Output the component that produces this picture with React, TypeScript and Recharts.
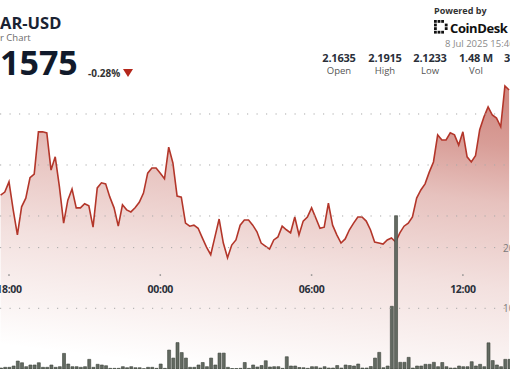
import React from 'react';
import { ComposedChart, Area, Bar, XAxis, YAxis, ReferenceLine } from 'recharts';

// 10 minute candles, first one at 17:40 (minutes are counted from 18:00)
const START_MIN = -20;
const STEP_MIN = 10;

const prices = [
  2.1641, 2.1647, 2.1667, 2.1612, 2.1563, 2.1618, 2.1635, 2.1675, 2.1682, 2.1765,
  2.1765, 2.1763, 2.169, 2.1716, 2.1657, 2.1586, 2.1631, 2.1653, 2.1616, 2.1616,
  2.1624, 2.162, 2.1578, 2.1655, 2.1665, 2.1663, 2.1637, 2.1616, 2.158, 2.1622,
  2.1612, 2.1608, 2.1616, 2.1627, 2.1645, 2.1684, 2.1694, 2.1694, 2.1684, 2.1673,
  2.1735, 2.1704, 2.1639, 2.1637, 2.1586, 2.158, 2.1582, 2.1576, 2.1557, 2.1539,
  2.1524, 2.1559, 2.1594, 2.1547, 2.1518, 2.1543, 2.1553, 2.1582, 2.1592, 2.1592,
  2.1582, 2.1569, 2.1547, 2.1541, 2.1535, 2.1553, 2.1559, 2.158, 2.1573, 2.1567,
  2.1598, 2.1563, 2.159, 2.1598, 2.1616, 2.1596, 2.1576, 2.1578, 2.1625, 2.1582,
  2.1563, 2.1547, 2.1555, 2.1573, 2.1586, 2.1598, 2.1598, 2.159, 2.1573, 2.1549,
  2.1547, 2.1545, 2.1553, 2.1557, 2.1549, 2.1567, 2.158, 2.1586, 2.1598, 2.1635,
  2.1651, 2.1663, 2.1686, 2.1706, 2.1759, 2.1749, 2.1749, 2.1763, 2.1759, 2.1739,
  2.1765, 2.1716, 2.1706, 2.1718, 2.1769, 2.1794, 2.1814, 2.1798, 2.1792, 2.1775,
  2.1855, 2.1847,
];

// volume in thousands
const volumes = [
  1.6, 2.8, 2.8, 4.9, 13.1, 10.3, 3.8, 6.6, 6.6, 10.3,
  2.8, 2.8, 6.6, 2.8, 3.8, 25.7, 8.2, 3.8, 3.8, 2.8,
  3.8, 15.9, 2.8, 7.7, 6.6, 5.4, 1.1, 1.1, 1.1, 3.8,
  2.1, 3.8, 2.1, 2.1, 0.5, 2.8, 2.8, 1.1, 8.2, 1.1,
  31.2, 18.0, 43.5, 27.1, 18.0, 2.8, 2.8, 6.6, 10.7, 3.8,
  18.0, 6.6, 26.2, 26.2, 2.8, 0.8, 0.8, 1.1, 10.7, 1.1,
  6.6, 3.3, 5.7, 13.6, 3.3, 3.8, 3.8, 1.1, 20.2, 4.9,
  4.9, 2.5, 2.1, 1.1, 3.8, 3.8, 1.6, 3.8, 1.6, 1.6,
  5.7, 1.6, 6.6, 5.7, 4.9, 8.2, 1.6, 1.6, 4.1, 18.0,
  27.4, 2.1, 4.9, 103.3, 252.6, 11.0, 11.0, 19.2, 1.6, 4.9,
  4.9, 7.7, 7.7, 11.0, 3.8, 10.7, 3.8, 1.6, 1.6, 4.9,
  3.8, 3.8, 12.0, 4.9, 7.7, 3.8, 43.1, 13.9, 6.6, 3.8,
  15.9, 15.9,
];

const timeTicks = [0, 360, 720, 1080];
const priceGrid = [2.18, 2.17, 2.16];
const volumeGrid = [100, 200];
const volumeGridLabels = ['100K', '200K'];

const statValues = ['2.1635', '2.1915', '2.1233', '1.48 M', '3.21 M'];
const statLabels = ['Open', 'High', 'Low', 'Vol', 'Vol $'];
const statCenters = [339, 385, 430, 476, 521];

const data = prices.map((price, i) => ({
  t: START_MIN + i * STEP_MIN,
  price,
  vol: volumes[i],
}));

const FONT = "'Open Sans', sans-serif";

const formatTime = (m: number) => {
  const total = (((18 * 60 + m) % 1440) + 1440) % 1440;
  const hh = String(Math.floor(total / 60)).padStart(2, '0');
  const mm = String(total % 60).padStart(2, '0');
  return `${hh}:${mm}`;
};

// time label drawn in the middle of the chart, under the price pane
const timeLabel = (t: number) => (p: any) => {
  const x = p.viewBox.x;
  return (
    <g>
      <rect x={x - 0.75} y={274.3} width={1.5} height={1.5} fill="#8c8c8c" />
      <text x={x} y={293} textAnchor="middle" fontSize={10.5} fontWeight={700}
        fill="#2b303a" fontFamily={FONT} letterSpacing={-0.3}>
        {formatTime(t)}
      </text>
    </g>
  );
};

const logoCells = [
  [1, 1, 1, 0],
  [1, 0, 0, 1],
  [1, 0, 0, 1],
  [1, 1, 1, 0],
];

const Header = () => (
  <svg width={510} height={369} style={{ position: 'absolute', left: 0, top: 0, pointerEvents: 'none' }}>
    <text x={0} y={29} fontSize={16.5} fontWeight={700} fill="#1a2333" fontFamily={FONT}>AR-USD</text>
    <text x={0} y={41} fontSize={9.5} fill="#6b6b6b" fontFamily={FONT}>r Chart</text>
    <text x={0} y={75} fontSize={34} fontWeight={700} fill="#111a2b" fontFamily={FONT}>1575</text>
    <text x={88} y={77} fontSize={10} fontWeight={700} fill="#333" fontFamily={FONT}>-0.28%</text>
    <polygon points="123,69 133,69 128,77" fill="#b4271b" />

    <text x={434} y={14} fontSize={9} fontWeight={700} fill="#333" fontFamily={FONT}>Powered by</text>
    {logoCells.map((row, r) =>
      row.map((c, k) =>
        c ? <rect key={`${r}-${k}`} x={434 + k * 3.6} y={20 + r * 3.6} width={2.8} height={2.8} fill="#111" /> : null
      )
    )}
    <text x={450} y={33} fontSize={13} fontWeight={700} fill="#111" fontFamily={FONT} letterSpacing={-0.4}>CoinDesk</text>
    <text x={445} y={47} fontSize={9.5} fill="#8a8a8a" fontFamily={FONT}>8 Jul 2025 15:46</text>

    {statValues.map((v, i) => (
      <text key={v} x={statCenters[i]} y={62} textAnchor="middle" fontSize={11} fontWeight={700}
        fill="#2a2f3a" fontFamily={FONT} letterSpacing={-0.2}>{v}</text>
    ))}
    {statLabels.map((l, i) => (
      <text key={l} x={statCenters[i]} y={74} textAnchor="middle" fontSize={9.5}
        fill="#555" fontFamily={FONT}>{l}</text>
    ))}
  </svg>
);

export default function App() {
  return (
    <div style={{ position: 'absolute', left: 0, top: 0, width: 510, height: 369, overflow: 'hidden', background: '#fff' }}>
      <ComposedChart width={510} height={369} data={data} margin={{ top: 0, right: 0, bottom: 0, left: 0 }}>
        <defs>
          <linearGradient id="areaFill" gradientUnits="userSpaceOnUse" x1={255} y1={70} x2={219} y2={371}>
            <stop offset="0" stopColor="#ae3326" stopOpacity={0.95} />
            <stop offset="0.15" stopColor="#ae3326" stopOpacity={0.8} />
            <stop offset="0.34" stopColor="#ae3326" stopOpacity={0.5} />
            <stop offset="0.62" stopColor="#ae3326" stopOpacity={0.25} />
            <stop offset="0.85" stopColor="#ae3326" stopOpacity={0.1} />
            <stop offset="1" stopColor="#ae3326" stopOpacity={0} />
          </linearGradient>
        </defs>
        <XAxis dataKey="t" type="number" domain={[-21.4, 1192.1]} ticks={timeTicks} hide allowDataOverflow />
        <YAxis yAxisId="price" domain={[2.13, 2.20235]} hide allowDataOverflow />
        <YAxis yAxisId="vol" domain={[0, 608]} hide allowDataOverflow />
        {priceGrid.map((p) => (
          <ReferenceLine key={p} yAxisId="price" y={p} stroke="#a8a8a8" strokeDasharray="1.2 8.3" />
        ))}
        {volumeGrid.map((v, i) => (
          <ReferenceLine key={v} yAxisId="vol" y={v} stroke="#a8a8a8" strokeDasharray="1.2 8.3"
            label={(p: any) => (
              <text x={503} y={p.viewBox.y + 4} fontSize={10} fill="#7a7a7a" fontFamily={FONT}>
                {volumeGridLabels[i]}
              </text>
            )} />
        ))}
        <Bar yAxisId="vol" dataKey="vol" barSize={3} fill="#636a62" stroke="#3c433b" strokeWidth={0.6}
          isAnimationActive={false} />
        <Area yAxisId="price" dataKey="price" type="linear" stroke="#b3362a" strokeWidth={1.6}
          fill="url(#areaFill)" dot={false} activeDot={false} isAnimationActive={false} />
        {timeTicks.map((t) => (
          <ReferenceLine key={t} yAxisId="price" x={t} stroke="none" label={timeLabel(t)} />
        ))}
      </ComposedChart>
      <Header />
    </div>
  );
}
